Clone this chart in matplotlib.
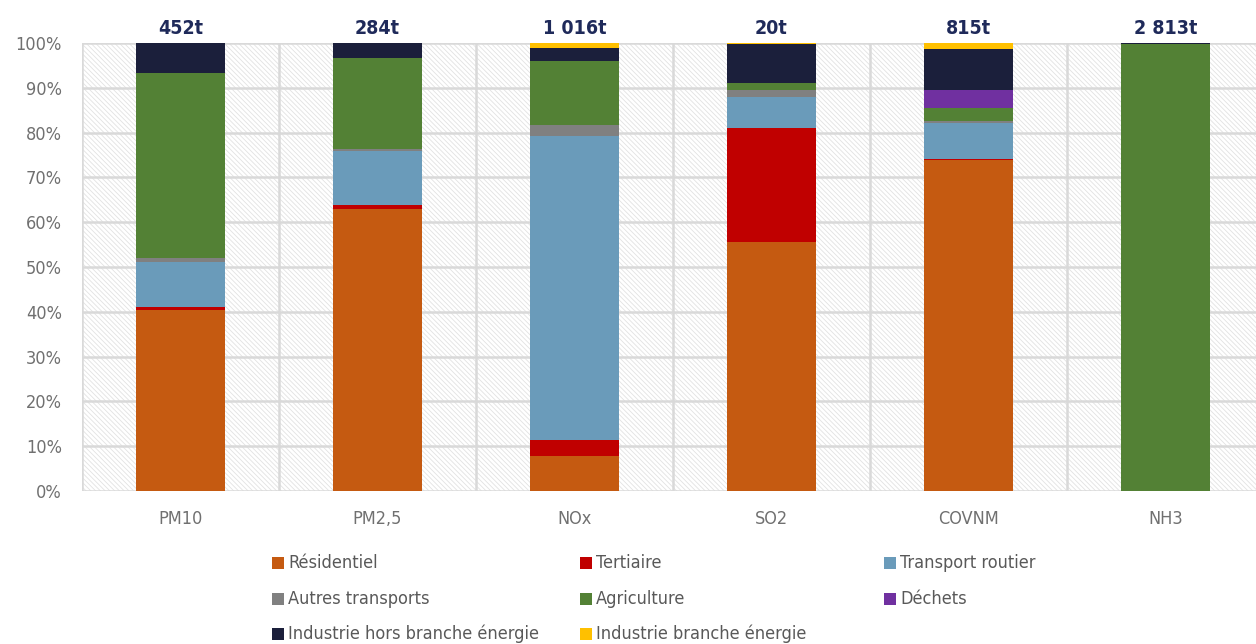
import matplotlib
matplotlib.use("Agg")
import matplotlib.pyplot as plt
from matplotlib.patches import Rectangle
import numpy as np

# Pollutants and total emissions
categories = ["PM10", "PM2,5", "NOx", "SO2", "COVNM", "NH3"]
totals = ["452t", "284t", "1 016t", "20t", "815t", "2 813t"]

# Sector shares (%) per pollutant, stacking order bottom -> top
sectors = ["Résidentiel", "Tertiaire", "Transport routier", "Autres transports",
           "Agriculture", "Déchets", "Industrie hors branche énergie",
           "Industrie branche énergie"]
residentiel = [40.4, 62.9, 7.8, 55.6, 73.8, 0.0]
tertiaire = [0.6, 0.9, 3.6, 25.5, 0.3, 0.0]
transport_routier = [10.1, 12.1, 67.9, 6.8, 8.0, 0.0]
autres_transports = [0.9, 0.5, 2.5, 1.6, 0.4, 0.0]
agriculture = [41.3, 20.3, 14.1, 1.5, 3.0, 99.8]
dechets = [0.0, 0.0, 0.0, 0.0, 4.0, 0.0]
industrie_hors = [6.6, 3.3, 2.9, 8.8, 9.2, 0.2]
industrie_branche = [0.1, 0.0, 1.2, 0.2, 1.3, 0.0]

series = [residentiel, tertiaire, transport_routier, autres_transports,
          agriculture, dechets, industrie_hors, industrie_branche]
colors = ["#C55A11", "#C00000", "#6A9BBA", "#808080",
          "#538135", "#7030A0", "#1B1F3B", "#FFC000"]

plt.rcParams["font.family"] = ["DejaVu Sans"]
plt.rcParams["font.stretch"] = "condensed"
plt.rcParams["hatch.color"] = "#e2e2e2"
plt.rcParams["hatch.linewidth"] = 0.6

fig = plt.figure(figsize=(12.56, 6.44), dpi=100)
ax = fig.add_axes([82 / 1256, 153 / 644, 1182 / 1256, 448 / 644])

x = np.arange(len(categories))
ax.set_xlim(-0.5, len(categories) - 0.5)
ax.set_ylim(0, 100)

# fine hatched background
ax.add_patch(Rectangle((0, 0), 1, 1, transform=ax.transAxes, facecolor="white",
                       edgecolor="#e2e2e2", hatch="\\" * 7, linewidth=0, zorder=0))

# grid
for yv in range(0, 101, 10):
    ax.axhline(yv, color="#d9d9d9", linewidth=1.8, zorder=1)
for xv in np.arange(-0.5, len(categories), 1.0):
    ax.axvline(xv, color="#d9d9d9", linewidth=1.8, zorder=1)

bottom = np.zeros(len(categories))
for name, vals, col in zip(sectors, series, colors):
    vals = np.array(vals)
    ax.bar(x, vals, 0.45, bottom=bottom, color=col, label=name, zorder=3,
           linewidth=0)
    bottom += vals

for xi, top, t in zip(x, bottom, totals):
    ax.text(xi, 101.2, t, ha="center", va="bottom", fontsize=14,
            fontweight="bold", color="#1F2A5A", fontstretch="condensed")

for s in ax.spines.values():
    s.set_visible(False)
ax.set_yticks(range(0, 101, 10))
ax.set_yticklabels([f"{v}%" for v in range(0, 101, 10)])
ax.set_xticks(x)
ax.set_xticklabels(categories)
ax.tick_params(axis="both", length=0, labelsize=13, colors="#707070")
ax.tick_params(axis="x", pad=14)
ax.tick_params(axis="y", pad=14.5)

# legend: three columns below the plot
labels = sectors
col_x = [272, 580, 884]
row_y = [563, 599, 634]
for i, (lab, col) in enumerate(zip(labels, colors)):
    r, c = divmod(i, 3)
    px, py = col_x[c], row_y[r]
    fig.patches.append(Rectangle((px / 1256, (644 - py - 6) / 644), 12 / 1256, 12 / 644,
                                 transform=fig.transFigure, facecolor=col,
                                 edgecolor="none"))
    fig.text((px + 16) / 1256, (644 - py) / 644, lab, ha="left", va="center",
             fontsize=13, color="#595959", fontstretch="condensed")

fig.savefig("out.png", dpi=100)
